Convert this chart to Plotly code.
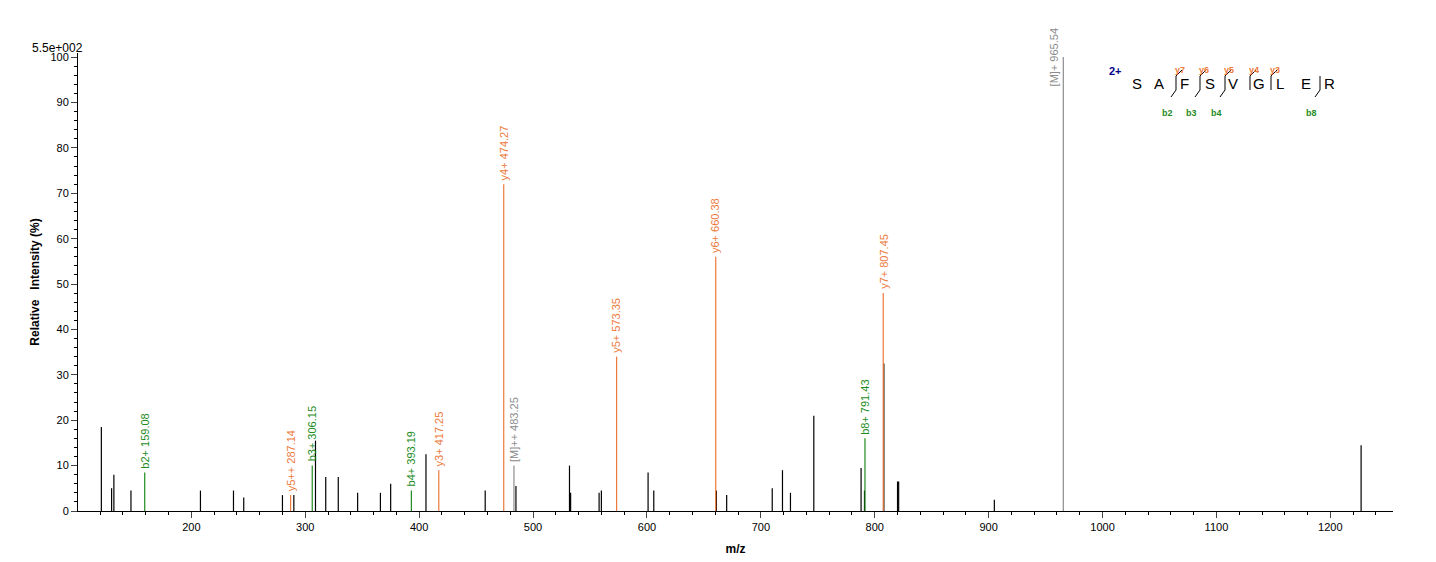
import plotly.graph_objects as go

# unannotated peaks
black_mz = [121, 130, 132, 147, 208, 237, 246, 280, 290, 309, 318, 329, 346, 366, 375, 406, 458, 485,
            532, 533, 558, 560, 601, 606, 661, 670, 710, 719, 726, 746.5, 788, 791, 808, 820, 821, 905, 1227]
black_int = [18.5, 5, 8, 4.5, 4.5, 4.5, 3, 3.5, 3.5, 15.5, 7.5, 7.5, 4, 4, 6, 12.5, 4.5, 5.5,
             10, 4, 4, 4.5, 8.5, 4.5, 4.5, 3.5, 5, 9, 4, 21, 9.5, 4.5, 32.5, 6.5, 6.5, 2.5, 14.5]

# annotated peaks
ann_mz = [159.08, 287.14, 306.15, 393.19, 417.25, 474.27, 483.25, 573.35, 660.38, 791.43, 807.45, 965.54]
ann_int = [8.5, 3.5, 10, 4.5, 9, 72, 10, 34, 56, 16, 48, 100]
ann_lab = ["b2+ 159.08", "y5++ 287.14", "b3+ 306.15", "b4+ 393.19", "y3+ 417.25", "y4+ 474.27",
           "[M]++ 483.25", "y5+ 573.35", "y6+ 660.38", "b8+ 791.43", "y7+ 807.45", "[M]+ 965.54"]
ann_type = ["b", "y", "b", "b", "y", "y", "M", "y", "y", "b", "y", "M"]

COL = {"b": "#1E8C1E", "y": "#EC7A3C", "M": "#8C8C8C"}

fig = go.Figure()

def stems(xs, ys, color):
    X, Y = [], []
    for x, y in zip(xs, ys):
        X += [x, x, None]; Y += [0, y, None]
    fig.add_trace(go.Scatter(x=X, y=Y, mode="lines", line=dict(color=color, width=1.2),
                             hoverinfo="skip", showlegend=False))

stems(black_mz, black_int, "black")
for t in ["b", "y", "M"]:
    xs = [m for m, k in zip(ann_mz, ann_type) if k == t]
    ys = [v for v, k in zip(ann_int, ann_type) if k == t]
    stems(xs, ys, COL[t])

for m, v, lab, t in zip(ann_mz, ann_int, ann_lab, ann_type):
    if v >= 95:
        fig.add_annotation(x=m, y=v, text=lab, textangle=-90, showarrow=False, yanchor="middle",
                           xanchor="right", xshift=-1, font=dict(size=11, color=COL[t]))
    else:
        fig.add_annotation(x=m, y=v, text=lab, textangle=-90, showarrow=False, yanchor="bottom",
                           xanchor="center", yshift=2, font=dict(size=11, color=COL[t]))

# peptide sequence drawing (pixel-based, in paper coords)
L, R, T, B = 70, 1385, 45, 503
def px(x): return (x - L) / (R - L)
def py(y): return (B - y) / (B - T)

letters = ["S", "A", "F", "S", "V", "G", "L", "E", "R"]
lx = [1129, 1151, 1176, 1202, 1225, 1251, 1272, 1298, 1321]
for ch, x in zip(letters, lx):
    fig.add_annotation(xref="paper", yref="paper", x=px(x), y=py(75), text=ch, showarrow=False,
                       font=dict(size=15, color="black"), xanchor="center", yanchor="middle")
fig.add_annotation(xref="paper", yref="paper", x=px(1116), y=py(55), text="<b>2+</b>", showarrow=False,
                   font=dict(size=11, color="#00008B"))

brk_x = [1168, 1192, 1217, 1242, 1263, 1312]
brk_y = ["y7", "y6", "y5", "y4", "y3", None]
brk_b = ["b2", "b3", "b4", None, None, "b8"]
for x, yl, bl in zip(brk_x, brk_y, brk_b):
    fig.add_shape(type="line", xref="paper", yref="paper", x0=px(x), x1=px(x), y0=py(68), y1=py(82),
                  line=dict(color="black", width=1))
    if yl:
        fig.add_shape(type="line", xref="paper", yref="paper", x0=px(x), x1=px(x + 6), y0=py(68), y1=py(62),
                      line=dict(color="black", width=1))
        fig.add_annotation(xref="paper", yref="paper", x=px(x + 11), y=py(55),
                           text="<b>" + yl + "</b>", showarrow=False,
                           font=dict(size=9, color=COL["y"]))
    if bl:
        fig.add_shape(type="line", xref="paper", yref="paper", x0=px(x), x1=px(x - 5), y0=py(82), y1=py(89),
                      line=dict(color="black", width=1))
        fig.add_annotation(xref="paper", yref="paper", x=px(x - 1), y=py(98),
                           text="<b>" + bl + "</b>", showarrow=False,
                           font=dict(size=9, color=COL["b"]))

fig.add_annotation(xref="paper", yref="paper", x=px(22), y=py(31), text="5.5e+002", showarrow=False,
                   xanchor="left", font=dict(size=12, color="black"))

fig.update_layout(
    width=1436, height=562, plot_bgcolor="white", paper_bgcolor="white",
    margin=dict(l=L, r=1436 - R, t=T, b=562 - B, autoexpand=False),
    font=dict(family="Liberation Sans, Arial, sans-serif", size=11, color="black"),
    xaxis=dict(range=[100.5, 1255], tickvals=list(range(200, 1300, 100)), ticks="outside", ticklen=6,
               showgrid=False, zeroline=False, showline=True, linecolor="black", automargin=False,
               minor=dict(dtick=20, tick0=0, ticks="outside", ticklen=3, tickcolor="black"),
               title=dict(text="<b>m/z</b>", font=dict(size=12), standoff=12)),
    yaxis=dict(range=[0, 100.9], tickvals=list(range(0, 101, 10)), ticks="outside", ticklen=6,
               showgrid=False, zeroline=False, showline=True, linecolor="black", automargin=False,
               minor=dict(dtick=2, ticks="outside", ticklen=3, tickcolor="black"),
               title=dict(text="<b>Relative   Intensity (%)</b>", font=dict(size=12), standoff=8)),
)
fig.write_html("out.html")
